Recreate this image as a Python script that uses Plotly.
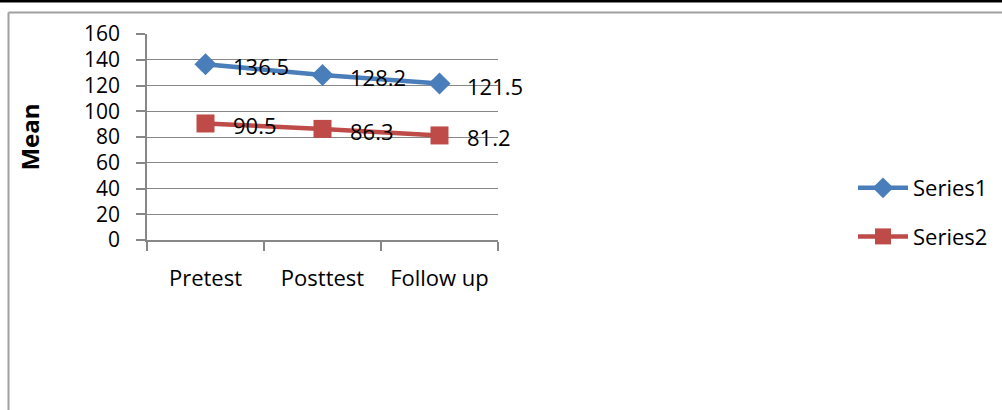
import plotly.graph_objects as go

categories = ["Pretest", "Posttest", "Follow up"]
series1 = [136.5, 128.2, 121.5]
series2 = [90.5, 86.3, 81.2]
series_names = ["Series1", "Series2"]
y_ticks = [0, 20, 40, 60, 80, 100, 120, 140, 160]

BLUE = "#4a7ebb"
RED = "#be4b48"
GRID = "#878787"
FONT = "Open Sans"
FS = 22

# layout geometry (pixels)
W, H = 1002, 410
L, R, T, B = 147, 504, 34, 170
PW = W - L - R
PH = H - T - B

def px_x(px):
    return (px - L) / PW

def px_y(py):
    return (H - B - py) / PH

fig = go.Figure()
fig.add_trace(go.Scatter(
    x=categories, y=series1, name=series_names[0], mode="lines+markers",
    line=dict(color=BLUE, width=4.5),
    marker=dict(symbol="diamond", size=17, color=BLUE),
    legendgroup="a",
))
fig.add_trace(go.Scatter(
    x=categories, y=series2, name=series_names[1], mode="lines+markers",
    line=dict(color=RED, width=4.5),
    marker=dict(symbol="square", size=18, color=RED),
    legendgroup="b",
))

annotations = []
for vals in (series1, series2):
    for c, v in zip(categories, vals):
        annotations.append(dict(
            x=c, y=v, xref="x", yref="y", text=f"{v:.1f}", showarrow=False,
            xanchor="left", yanchor="middle", xshift=25, yshift=-2,
            font=dict(family=FONT, size=FS, color="black"),
        ))

shapes = [
    # black bar at the very top
    dict(type="rect", xref="paper", yref="paper", x0=px_x(-5), x1=px_x(W + 5),
         y0=px_y(2.5), y1=px_y(-5), fillcolor="black", line=dict(width=0), layer="above"),
    # grey chart frame (top + left)
    dict(type="line", xref="paper", yref="paper", x0=px_x(8.5), x1=px_x(W + 5),
         y0=px_y(12.5), y1=px_y(12.5), line=dict(color="#a0a0a0", width=2), layer="above"),
    dict(type="line", xref="paper", yref="paper", x0=px_x(8.5), x1=px_x(8.5),
         y0=px_y(12.5), y1=px_y(H + 5), line=dict(color="#a0a0a0", width=2), layer="above"),
]

fig.update_layout(
    width=W, height=H,
    margin=dict(l=L, r=R, t=T, b=B, pad=0, autoexpand=False),
    paper_bgcolor="white", plot_bgcolor="white",
    font=dict(family=FONT, size=FS, color="black"),
    showlegend=True,
    legend=dict(
        xref="container", yref="container",
        x=853 / W, y=1 - 212.5 / H, xanchor="left", yanchor="middle",
        font=dict(family=FONT, size=FS, color="black"),
        tracegroupgap=17, traceorder="grouped", itemwidth=50,
        bgcolor="rgba(0,0,0,0)",
    ),
    annotations=annotations,
    shapes=shapes,
    xaxis=dict(
        type="category", range=[-0.5, 2.5], tickson="boundaries",
        showgrid=False, showline=True, linecolor=GRID, linewidth=1.5,
        ticks="outside", ticklen=9, tickcolor=GRID, tickwidth=1.5,
        ticklabelstandoff=18, tickfont=dict(family=FONT, size=FS),
        zeroline=False, automargin=False,
    ),
    yaxis=dict(
        range=[0, 160], tickvals=y_ticks, showgrid=True, gridcolor=GRID, gridwidth=1.2,
        showline=True, linecolor=GRID, linewidth=1.5,
        ticks="outside", ticklen=9, tickcolor=GRID, tickwidth=1.5,
        ticklabelstandoff=12, tickfont=dict(family=FONT, size=21),
        zeroline=False, automargin=False,
        title=dict(text="<b>Mean</b>", font=dict(family=FONT, size=24), standoff=38),
    ),
)

fig.write_html("out.html")
